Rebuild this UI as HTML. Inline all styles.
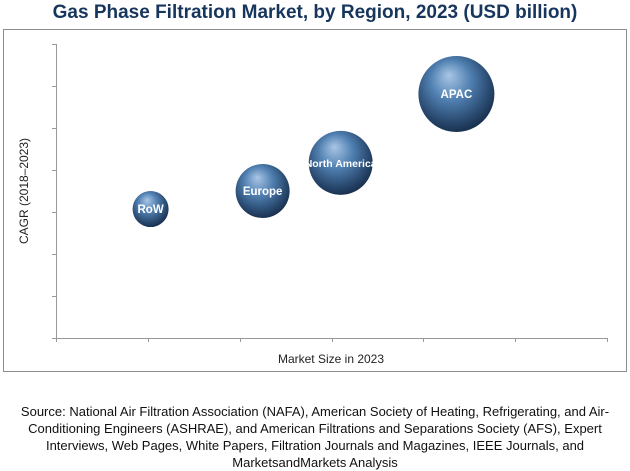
<!DOCTYPE html>
<html><head><meta charset="utf-8"><style>
body{margin:0;width:630px;height:469px;background:#fff;font-family:"Liberation Sans",sans-serif;overflow:hidden;position:relative}
#title{position:absolute;top:2px;left:0;width:630px;text-align:center;font-weight:bold;font-size:19px;color:#17365d}
#src{position:absolute;top:403px;left:0;width:630px;text-align:center;font-size:13px;line-height:17px;color:#111}
</style></head><body>
<div id="title">Gas Phase Filtration Market, by Region, 2023 (USD billion)</div>
<svg id="chart" width="630" height="400" style="position:absolute;left:0;top:0">
<defs>
<radialGradient id="g" cx="0.45" cy="0.4" r="0.6" fx="0.4" fy="0.25">
<stop offset="0" stop-color="#a9c6e6"/><stop offset="0.45" stop-color="#4f7fb0"/><stop offset="0.85" stop-color="#27466b"/><stop offset="1" stop-color="#1a3150"/>
</radialGradient>
</defs>
<rect x="3.5" y="29.5" width="623" height="342" fill="none" stroke="#8c8c8c"/>
<g id="axes"></g>
<g id="bubbles"></g>
<text x="331" y="363" text-anchor="middle" font-size="12" fill="#222">Market Size in 2023</text>
<text transform="translate(28,191) rotate(-90)" text-anchor="middle" font-size="12" fill="#222">CAGR (2018–2023)</text>
</svg>
<div id="src">Source: National Air Filtration Association (NAFA), American Society of Heating, Refrigerating, and Air-<br>Conditioning Engineers (ASHRAE), and American Filtrations and Separations Society (AFS), Expert<br>Interviews, Web Pages, White Papers, Filtration Journals and Magazines, IEEE Journals, and<br>MarketsandMarkets Analysis</div>
<script>
const regions=["RoW","Europe","North America","APAC"];
const marketSize=[1.03,2.25,3.1,4.36];
const cagr=[3.07,3.5,4.17,5.81];
const bubbleSize=[18,27,32,38];
const xTickCount=6, yTickCount=7;
const NS="http://www.w3.org/2000/svg";
const X0=56,X1=607,Y0=338,Y1=44;
const xs=v=>X0+(X1-X0)*v/xTickCount;
const ys=v=>Y0-(Y0-Y1)*v/yTickCount;
const axes=document.getElementById('axes');
function ln(x1,y1,x2,y2,name){const l=document.createElementNS(NS,'line');
l.setAttribute('x1',x1);l.setAttribute('y1',y1);l.setAttribute('x2',x2);l.setAttribute('y2',y2);
l.setAttribute('stroke','#999');l.setAttribute('stroke-width','1');


axes.appendChild(l);}
ln(X0+0.5,Y1,X0+0.5,Y0+3,'y-axis');
ln(X0,Y0+0.5,X1,Y0+0.5,'x-axis');
for(let i=0;i<=yTickCount;i++)ln(X0-4,Math.round(ys(i))+0.5,X0,Math.round(ys(i))+0.5,'y-tick');
for(let i=0;i<=xTickCount;i++)ln(Math.round(xs(i))+0.5,Y0,Math.round(xs(i))+0.5,Y0+4,'x-tick');
const bg=document.getElementById('bubbles');
regions.forEach((r,i)=>{
const c=document.createElementNS(NS,'circle');
c.setAttribute('cx',xs(marketSize[i]));c.setAttribute('cy',ys(cagr[i]));c.setAttribute('r',bubbleSize[i]);
c.setAttribute('fill','url(#g)');


bg.appendChild(c);
const t=document.createElementNS(NS,'text');
t.setAttribute('x',xs(marketSize[i]));t.setAttribute('y',ys(cagr[i])+4);
t.setAttribute('text-anchor','middle');t.setAttribute('font-size',r.length>6?'10.5':'11.5');
t.setAttribute('font-weight','bold');t.setAttribute('fill','#fff');


t.textContent=r;bg.appendChild(t);
});
</script>
</body></html>
